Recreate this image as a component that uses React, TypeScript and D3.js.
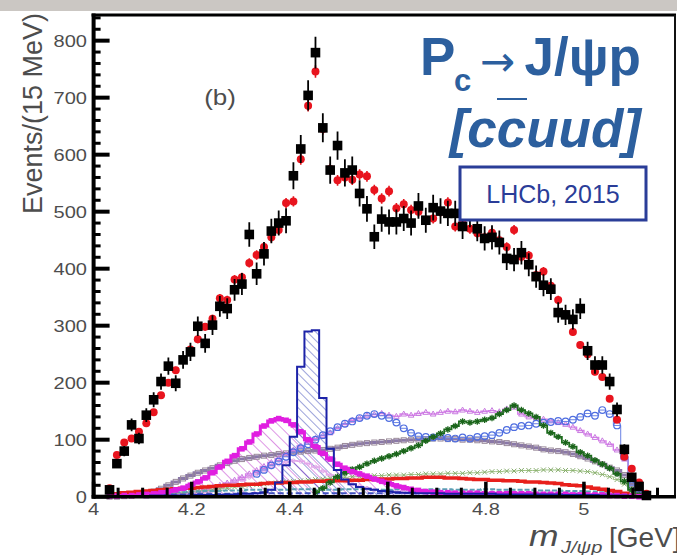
import React from "react";
import * as d3 from "d3";

const W = 677;
const H = 555;

// 15 MeV bins starting at 4.025 GeV
const BIN_START = 4.025;
const BIN_WIDTH = 0.015;

// Black: data (Events / 15 MeV)
const dataCounts: number[] = [
  12, 58, 80, 126, 102, 143, 170, 202, 229, 199,
  240, 254, 299, 269, 301, 334, 330, 363, 373, 460,
  391, 426, 466, 480, 484, 563, 610, 704, 779, 647,
  573, 616, 568, 573, 532, 505, 456, 487, 482, 482,
  488, 480, 510, 485, 507, 501, 497, 497, 474, 495,
  470, 453, 455, 446, 418, 416, 428, 407, 386, 371,
  364, 323, 319, 311, 330, 256, 231, 231, 202, 153,
  83, 34, 18, 2,
];

// Red points: total fit
const fitTotal: number[] = [
  15, 73, 95, 102, 114, 129, 148, 178, 200, 222,
  240, 258, 276, 298, 312, 348, 345, 381, 385, 410,
  424, 438, 455, 468, 515, 518, 592, 686, 746, 645,
  575, 555, 560, 556, 565, 562, 538, 523, 536, 506,
  513, 503, 500, 485, 488, 500, 516, 474, 480, 470,
  462, 455, 463, 450, 438, 468, 421, 423, 389, 395,
  370, 345, 320, 289, 266, 250, 219, 210, 172, 135,
  70, 49, 25, 5,
];

// Magenta hatched: Pc(4380)
const pc4380: number[] = [
  1, 1, 2, 2, 3, 4, 5, 7, 9, 12,
  15, 20, 26, 33, 42, 52, 62, 72, 84, 96,
  110, 124, 133, 137, 134, 126, 114, 100, 88, 76,
  66, 57, 50, 44, 40, 36, 31, 27, 23, 19,
  16, 13, 11, 9, 8, 7, 7, 6, 6, 6,
  6, 5, 5, 5, 5, 5, 5, 5, 4, 4,
  4, 4, 4, 3, 3, 3, 3, 3, 2, 2,
  1, 1, 0, 0,
];

// Blue hatched: Pc(4450)
const pc4450: number[] = [
  1, 1, 1, 1, 1, 1, 2, 2, 2, 2,
  2, 2, 3, 3, 3, 3, 4, 4, 5, 5,
  6, 8, 12, 25, 55, 105, 228, 290, 292, 173,
  84, 47, 30, 22, 17, 14, 12, 10, 9, 8,
  7, 7, 6, 6, 6, 6, 5, 5, 5, 5,
  5, 5, 5, 4, 4, 4, 4, 4, 4, 4,
  4, 4, 3, 3, 3, 3, 3, 2, 2, 2,
  2, 1, 1, 0,
];

// Dark green stars
const greenComp: (number | null)[] = [
  null, null, null, null, null, null, null, null, null, null,
  null, null, null, null, null, null, null, null, null, null,
  null, null, null, null, null, null, null, null, 8, 15,
  25, 35, 42, 48, 52, 58, 63, 67, 71, 75,
  80, 85, 90, 98, 105, 111, 118, 124, 132, 130,
  132, 135, 138, 145, 152, 160, 152, 146, 140, 125,
  112, 105, 95, 88, 78, 72, 64, 57, 50, 40,
  27, 12, 3, 0,
];

// Violet (orchid) triangles
const violetComp: (number | null)[] = [
  null, null, null, null, null, 1, 2, 3, 4, 5,
  6, 8, 10, 13, 16, 20, 24, 29, 34, 40,
  46, 53, 60, 67, 74, 82, 89, 96, 102, 107,
  112, 120, 127, 134, 138, 142, 144, 146, 143, 141,
  145, 143, 146, 148, 145, 148, 150, 149, 152, 150,
  148, 150, 151, 149, 154, 157, 145, 140, 138, 136,
  133, 130, 127, 122, 116, 110, 104, 98, 92, 82,
  66, 35, 10, 2,
];

// Blue open circles
const blueCircles: (number | null)[] = [
  null, null, null, null, null, null, null, null, null, null,
  null, null, null, null, null, null, null, null, null, null,
  40, 47, 55, 62, 70, 78, 85, 92, 100, 108,
  115, 122, 128, 132, 138, 142, 145, 142, 138, 130,
  120, 112, 106, 105, 104, 106, 103, 102, 104, 102,
  105, 106, 108, 112, 117, 122, 124, 125, 128, 130,
  131, 133, 132, 135, 140, 146, 142, 152, 145, 125,
  70, 20, 3, null,
];

// Gray-purple squares
const grayPurple: number[] = [
  0, 0, 1, 2, 3, 5, 9, 14, 20, 26,
  32, 37, 42, 46, 50, 55, 59, 63, 66, 68,
  70, 72, 73, 75, 76, 78, 79, 80, 81, 82,
  84, 86, 89, 91, 93, 94, 95, 96, 97, 98,
  99, 100, 100, 101, 102, 102, 101, 101, 100, 100,
  99, 98, 97, 96, 94, 92, 90, 88, 86, 83,
  81, 80, 78, 75, 71, 67, 62, 57, 51, 46,
  38, 22, 6, 1,
];

// Light lilac
const lilacComp: (number | null)[] = [
  null, null, null, null, null, null, null, null, null, null,
  2, 3, 5, 8, 11, 15, 19, 24, 29, 34,
  40, 46, 52, 57, 61, 63, 62, 58, 52, 45,
  38, 32, 27, 22, 18, 15, 12, 10, 9, 9,
  8, 8, 8, 8, 8, 8, 8, 8, 8, 8,
  8, 8, 8, 8, 8, 8, 8, 7, 7, 7,
  7, 7, 6, 6, 6, 5, 5, 5, 4, 4,
  3, 2, 1, 0,
];

// Red thick line
const redComp: number[] = [
  3, 5, 7, 8, 9, 10, 11, 12, 13, 14,
  15, 15, 16, 17, 18, 19, 20, 20, 21, 22,
  22, 23, 24, 24, 25, 25, 26, 26, 27, 27,
  28, 28, 28, 29, 29, 30, 30, 31, 31, 32,
  32, 33, 33, 34, 34, 34, 33, 33, 32, 31,
  30, 30, 29, 29, 28, 28, 27, 26, 26, 25,
  24, 23, 21, 20, 19, 17, 15, 13, 11, 9,
  6, 3, 1, 0,
];

// Light green crosses
const lightGreen: number[] = [
  0, 0, 1, 1, 2, 2, 3, 4, 5, 6,
  7, 8, 10, 11, 12, 14, 15, 17, 18, 20,
  21, 22, 24, 25, 26, 27, 28, 29, 30, 31,
  32, 33, 34, 35, 35, 36, 37, 37, 38, 38,
  38, 39, 39, 40, 40, 40, 41, 41, 41, 42,
  42, 43, 44, 44, 45, 45, 46, 46, 46, 47,
  47, 47, 46, 46, 45, 44, 42, 39, 35, 30,
  22, 10, 2, 0,
];

// Teal low line
const tealLow: number[] = [
  1, 2, 3, 4, 5, 5, 6, 7, 7, 8,
  8, 9, 9, 10, 10, 10, 11, 11, 11, 12,
  12, 12, 12, 12, 12, 13, 13, 13, 12, 12,
  12, 12, 13, 13, 13, 13, 12, 12, 12, 13,
  13, 13, 12, 12, 13, 13, 13, 12, 12, 12,
  12, 13, 13, 12, 12, 12, 12, 12, 11, 11,
  11, 11, 10, 10, 10, 9, 9, 8, 7, 6,
  4, 2, 1, 0,
];

// Blue low line
const blueLow: number[] = [
  1, 1, 2, 2, 3, 3, 3, 4, 4, 4,
  4, 5, 5, 5, 5, 5, 5, 5, 6, 6,
  6, 6, 6, 6, 6, 6, 6, 6, 6, 6,
  6, 6, 6, 6, 6, 6, 6, 6, 6, 6,
  6, 6, 6, 6, 6, 6, 6, 6, 6, 6,
  6, 6, 6, 6, 6, 6, 6, 6, 5, 5,
  5, 5, 5, 5, 5, 4, 4, 4, 4, 3,
  2, 1, 1, 0,
];

const xMajorTicks: number[] = [4.0, 4.2, 4.4, 4.6, 4.8, 5.0];
const xMajorLabels: string[] = ["4", "4.2", "4.4", "4.6", "4.8", "5"];
const yMajorTicks: number[] = [0, 100, 200, 300, 400, 500, 600, 700, 800];

const FONT = "'Liberation Sans', Arial, Helvetica, sans-serif";
const AXIS_TXT = "#4d4d4d";
const TITLE_BLUE = "#2c5f9e";
const BOX_BLUE = "#2a3d98";

const PLOT_L = 93.6;
const PLOT_R = 675;
const PLOT_T = 15;
const PLOT_B = 496.7;

export default function App() {
  const x = d3.scaleLinear().domain([4.0, 5.2]).range([PLOT_L, 682]);
  const y = d3.scaleLinear().domain([0, 845]).range([PLOT_B, PLOT_T]);
  const cx = (i: number) => x(BIN_START + BIN_WIDTH * (i + 0.5));

  const stepLine = (arr: (number | null)[]) =>
    d3
      .line<number | null>()
      .defined((d) => d != null)
      .x((_, i) => cx(i))
      .y((d) => y(d as number))
      .curve(d3.curveStep)(arr) || "";

  const histPath = (arr: number[]) => {
    const pts: [number, number][] = [];
    arr.forEach((v, i) => {
      const x0 = x(BIN_START + BIN_WIDTH * i);
      const x1 = x(BIN_START + BIN_WIDTH * (i + 1));
      pts.push([x0, y(v)], [x1, y(v)]);
    });
    const first = pts[0][0];
    const last = pts[pts.length - 1][0];
    return (
      `M${first},${y(0)}` +
      pts.map((p) => `L${p[0]},${p[1]}`).join("") +
      `L${last},${y(0)}Z`
    );
  };

  const xMinorTicks = d3.range(4.0, 5.1751, 0.05).filter(
    (t) => !xMajorTicks.some((m) => Math.abs(m - t) < 1e-6)
  );
  const yMinorTicks = d3.range(0, 845, 20).filter((t) => t % 100 !== 0);

  const star = "M-3.2,0H3.2M0,-3.2V3.2M-2.3,-2.3L2.3,2.3M-2.3,2.3L2.3,-2.3";
  const cross = "M-2.4,-2.4L2.4,2.4M-2.4,2.4L2.4,-2.4";
  const tri = "M0,-3L2.8,2L-2.8,2Z";

  return (
    <svg
      width={W}
      height={H}
      viewBox={`0 0 ${W} ${H}`}
      style={{ position: "fixed", left: 0, top: 0, background: "#ffffff" }}
      fontFamily={FONT}
    >
      <defs>
        <pattern id="hatchMag" patternUnits="userSpaceOnUse" width="8" height="8" patternTransform="rotate(-45)">
          <line x1="0" y1="0" x2="0" y2="8" stroke="#c040d0" strokeWidth="1.1" />
        </pattern>
        <pattern id="hatchBlue" patternUnits="userSpaceOnUse" width="6" height="6" patternTransform="rotate(-45)">
          <line x1="0" y1="0" x2="0" y2="6" stroke="#3a48b8" strokeWidth="1" />
        </pattern>
        <clipPath id="plotClip">
          <rect x={PLOT_L} y={PLOT_T} width={PLOT_R - PLOT_L} height={PLOT_B - PLOT_T + 4} />
        </clipPath>
      </defs>

      <rect x={0} y={0} width={W} height={H} fill="#ffffff" />
      <rect x={0} y={0} width={W} height={11} fill="#cbc7c3" />

      <g clipPath="url(#plotClip)">
        <path d={histPath(pc4380)} fill="url(#hatchMag)" stroke="none" />
        <path d={histPath(pc4450)} fill="url(#hatchBlue)" stroke="none" />

        <path d={stepLine(lilacComp)} fill="none" stroke="#e2a6ea" strokeWidth={1.5} />
        {lilacComp.map((v, i) =>
          v == null ? null : (
            <circle key={"li" + i} cx={cx(i)} cy={y(v)} r={1.8} fill="none" stroke="#e2a6ea" strokeWidth={1} />
          )
        )}

        <path d={stepLine(grayPurple)} fill="none" stroke="#8a78a8" strokeWidth={3} />
        {grayPurple.map((v, i) => (
          <rect key={"gp" + i} x={cx(i) - 2.5} y={y(v) - 2.5} width={5} height={5} fill="none" stroke="#9a8a9a" strokeWidth={1} />
        ))}

        <path d={stepLine(violetComp)} fill="none" stroke="#d57ee8" strokeWidth={1.4} />
        {violetComp.map((v, i) =>
          v == null ? null : (
            <path key={"vi" + i} d={tri} transform={`translate(${cx(i)},${y(v)})`} fill="none" stroke="#c87ae0" strokeWidth={1} />
          )
        )}

        <path d={stepLine(blueCircles)} fill="none" stroke="#6a82e4" strokeWidth={1} />
        {blueCircles.map((v, i) =>
          v == null ? null : (
            <circle key={"bc" + i} cx={cx(i)} cy={y(v)} r={3.3} fill="none" stroke="#4f6ee0" strokeWidth={1.2} />
          )
        )}

        <path d={stepLine(lightGreen)} fill="none" stroke="#9cc080" strokeWidth={1} />
        {lightGreen.map((v, i) => (
          <path key={"lg" + i} d={cross} transform={`translate(${cx(i)},${y(v)})`} stroke="#86ac6c" strokeWidth={1} />
        ))}

        <path d={stepLine(tealLow)} fill="none" stroke="#5aa0b4" strokeWidth={2} strokeDasharray="5,2" />
        <path d={stepLine(blueLow)} fill="none" stroke="#4050c0" strokeWidth={2} strokeDasharray="6,3" />

        <path d={stepLine(redComp)} fill="none" stroke="#e8201c" strokeWidth={3.5} />

        <path d={stepLine(greenComp)} fill="none" stroke="#1e6e1e" strokeWidth={1.8} />
        {greenComp.map((v, i) =>
          v == null ? null : (
            <path key={"gr" + i} d={star} transform={`translate(${cx(i)},${y(v)})`} stroke="#1a641a" strokeWidth={1.3} />
          )
        )}

        <path d={stepLine(pc4380)} fill="none" stroke="#e01ee0" strokeWidth={3} />
        {pc4380.map((v, i) => (
          <rect key={"mg" + i} x={cx(i) - 2.8} y={y(v) - 2.8} width={5.6} height={5.6} fill="#e01ee0" />
        ))}

        <path d={histPath(pc4450)} fill="none" stroke="#1c22a8" strokeWidth={2} />

        {fitTotal.map((v, i) => {
          const e = 0.4 * Math.sqrt(v);
          return (
            <g key={"ft" + i}>
              <line x1={cx(i)} x2={cx(i)} y1={y(v + e)} y2={y(Math.max(0, v - e))} stroke="#e5141c" strokeWidth={1.6} />
              <circle cx={cx(i)} cy={y(v)} r={4} fill="#e8141e" />
            </g>
          );
        })}

        {dataCounts.map((v, i) => {
          const e = Math.sqrt(Math.max(v, 1));
          return (
            <g key={"dt" + i}>
              <line x1={cx(i)} x2={cx(i)} y1={y(v + e)} y2={y(Math.max(0, v - e))} stroke="#000" strokeWidth={1.8} />
              <rect x={cx(i) - 4.8} y={y(v) - 4.8} width={9.6} height={9.6} fill="#000" />
            </g>
          );
        })}
      </g>

      {/* frame */}
      <line x1={PLOT_L - 2} x2={PLOT_R + 1} y1={PLOT_T} y2={PLOT_T} stroke="#000" strokeWidth={3} />
      <line x1={PLOT_R} x2={PLOT_R} y1={PLOT_T} y2={PLOT_B} stroke="#111" strokeWidth={2} />
      <line x1={PLOT_L} x2={PLOT_L} y1={PLOT_T - 1.5} y2={PLOT_B + 2} stroke="#000" strokeWidth={4} />
      <line x1={PLOT_L - 2} x2={PLOT_R + 1} y1={PLOT_B} y2={PLOT_B} stroke="#000" strokeWidth={3.5} />

      {yMajorTicks.map((t) => (
        <g key={"ym" + t}>
          <line x1={PLOT_L} x2={PLOT_L + 16} y1={y(t)} y2={y(t)} stroke="#000" strokeWidth={4} />
          <text
            transform={`translate(87,${y(t)}) scale(1.18,1)`}
            textAnchor="end"
            dominantBaseline="central"
            fontSize={17}
            fill={AXIS_TXT}
          >
            {t}
          </text>
        </g>
      ))}
      {yMinorTicks.map((t) => (
        <line key={"yn" + t} x1={PLOT_L} x2={PLOT_L + 7} y1={y(t)} y2={y(t)} stroke="#000" strokeWidth={3} />
      ))}

      {xMajorTicks.map((t, k) => (
        <g key={"xm" + t}>
          <line x1={x(t)} x2={x(t)} y1={PLOT_B} y2={PLOT_B - 15} stroke="#000" strokeWidth={3.5} />
          <text
            transform={`translate(${x(t)},515) scale(1.18,1)`}
            textAnchor="middle"
            fontSize={17}
            fill={AXIS_TXT}
          >
            {xMajorLabels[k]}
          </text>
        </g>
      ))}
      {xMinorTicks.map((t) => (
        <line key={"xn" + t.toFixed(2)} x1={x(t)} x2={x(t)} y1={PLOT_B} y2={PLOT_B - 9} stroke="#000" strokeWidth={3} />
      ))}

      {/* axis titles */}
      <text transform="translate(42,13) rotate(-90)" textAnchor="end" fontSize={27} fill={AXIS_TXT}>
        Events/(15 MeV)
      </text>
      <text transform="translate(529,546) scale(1.18,1)" fontSize={30} fontStyle="italic" fill={AXIS_TXT}>
        m
      </text>
      <text transform="translate(561,553) scale(1.18,1)" fontSize={17} fontStyle="italic" fill={AXIS_TXT}>
        J/ψp
      </text>
      <text x={609} y={547} fontSize={28} fill={AXIS_TXT}>
        [GeV]
      </text>

      <text transform="translate(220,105) scale(1.18,1)" textAnchor="middle" fontSize={22} fill={AXIS_TXT}>
        (b)
      </text>

      {/* Title overlay */}
      <text x={420} y={75} fontSize={53} fontWeight="bold" fill={TITLE_BLUE}>
        P
      </text>
      <text x={454} y={91} fontSize={31} fontWeight="bold" fill={TITLE_BLUE}>
        c
      </text>
      <text x={480} y={76} fontSize={42} fontFamily="'DejaVu Sans', sans-serif" fill={TITLE_BLUE}>
        →
      </text>
      <text x={641} y={75} textAnchor="end" fontSize={53} fontWeight="bold" fill={TITLE_BLUE}>
        J/ψp
      </text>
      <text x={641} y={147} textAnchor="end" fontSize={53} fontWeight="bold" fontStyle="italic" fill={TITLE_BLUE}>
        [ccuud]
      </text>
      <line x1={497} x2={527} y1={99} y2={99} stroke={TITLE_BLUE} strokeWidth={2} />

      <rect x={460} y={167} width={186} height={53} fill="#ffffff" stroke={BOX_BLUE} strokeWidth={3} />
      <text x={553} y={203} textAnchor="middle" fontSize={25} fill={BOX_BLUE}>
        LHCb, 2015
      </text>
    </svg>
  );
}
